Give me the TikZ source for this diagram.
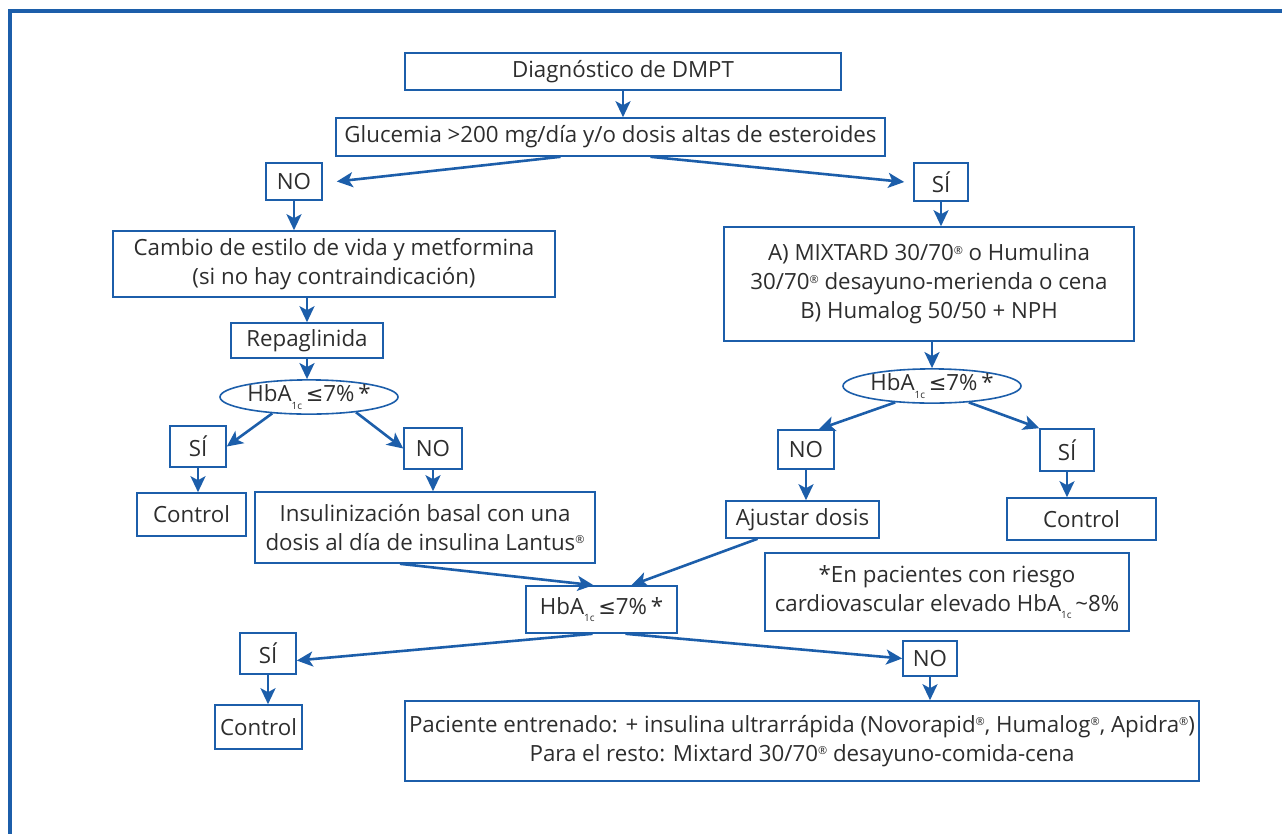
\documentclass[tikz,border=0pt]{standalone}
\usepackage{fontspec}
\setmainfont{Open Sans}
\newfontfamily\dv{DejaVu Sans}
\usetikzlibrary{shapes.geometric,arrows.meta}
\definecolor{bl}{RGB}{28,94,170}
\definecolor{tx}{RGB}{45,45,45}
\newcommand\rg{\raisebox{0.55ex}{\fontsize{11}{11}\selectfont ®}}
\newcommand\sbc[1]{\raisebox{-0.6ex}{\fontsize{10}{10}\selectfont #1}}
\newcommand\hba{HbA\sbc{1c}\,{\dv\fontsize{21}{21}\selectfont ≤}7\%\,*}
\begin{document}
\begin{tikzpicture}[x=1pt,y=-1pt,
  every node/.style={text=tx,font=\fontsize{22.3}{29}\selectfont},
  bx/.style={draw=bl,line width=1.6pt,inner sep=0pt,align=center},
  el/.style={draw=bl,line width=1.6pt,ellipse,inner sep=0pt},
  arr/.style={draw=bl,line width=2.6pt,-{Stealth[length=16pt,width=15pt,inset=4pt]}},
  frame/.style={draw=bl,line width=3.2pt}]
\useasboundingbox (0,0) rectangle (1282,833);
\draw[frame] (10,850) -- (10,11) -- (1300,11);
\node[bx,minimum width=436pt,minimum height=37pt] (diag) at (623,71.5) {Diagnóstico de DMPT};
\node[bx,minimum width=549pt,minimum height=38pt] (gluc) at (610.5,137) {Glucemia >200 mg/día y/o dosis altas de esteroides};
\node[bx,minimum width=56pt,minimum height=37pt] (no1) at (294,181.5) {NO};
\node[bx,minimum width=54pt,minimum height=38pt] (si1) at (941,182) {SÍ};
\node[bx,minimum width=442pt,minimum height=66pt] (cambio) at (334,264) {Cambio de estilo de vida y metformina\\(si no hay contraindicación)};
\node[bx,minimum width=410pt,minimum height=114pt] (mix) at (929,284) {A) MIXTARD 30/70\rg{} o Humulina\\30/70\rg{} desayuno-merienda o cena\\B) Humalog 50/50 + NPH};
\node[bx,minimum width=152pt,minimum height=35pt] (repa) at (307,340.5) {Repaglinida};
\node[el,minimum width=178pt,minimum height=30pt] (ell1) at (309,397) {\hba};
\node[el,minimum width=178pt,minimum height=28pt] (ell2) at (932,386) {\hba};
\node[bx,minimum width=56pt,minimum height=41pt] (si2) at (198,446.5) {SÍ};
\node[bx,minimum width=58pt,minimum height=41pt] (no2) at (433,448.5) {NO};
\node[bx,minimum width=56pt,minimum height=39pt] (no3) at (806,449.5) {NO};
\node[bx,minimum width=54pt,minimum height=42pt] (si3) at (1067,450) {SÍ};
\node[bx,minimum width=109pt,minimum height=43pt] (ctl1) at (191.5,514.5) {Control};
\node[bx,minimum width=340pt,minimum height=71pt] (insul) at (425,527.5) {Insulinización basal con una\\dosis al día de insulina Lantus\rg};
\node[bx,minimum width=153pt,minimum height=37pt] (ajus) at (802.5,519.5) {Ajustar dosis};
\node[bx,minimum width=149pt,minimum height=42pt] (ctl2) at (1081.5,519) {Control};
\node[bx,minimum width=364pt,minimum height=78pt] (note) at (947,592) {*En pacientes con riesgo\\cardiovascular elevado HbA\sbc{1c}\,\textasciitilde8\%};
\node[bx,minimum width=151pt,minimum height=47pt] (hbb) at (601.5,609.5) {\hba};
\node[bx,minimum width=56pt,minimum height=41pt] (si4) at (268,653.5) {SÍ};
\node[bx,minimum width=54pt,minimum height=35pt] (no4) at (930,658.5) {NO};
\node[bx,minimum width=87pt,minimum height=44pt] (ctl3) at (258.5,727) {Control};
\node[bx,minimum width=794pt,minimum height=80pt] (bot) at (802,741) {Paciente entrenado: + insulina ultrarrápida (Novorapid\rg, Humalog\rg, Apidra\rg)\\Para el resto: Mixtard 30/70\rg{} desayuno-comida-cena};
% arrows
\draw[arr] (diag.south) -- (diag.south |- gluc.north);
\draw[arr] ([xshift=-50pt]gluc.south) -- ([xshift=14pt]no1.east);
\draw[arr] ([xshift=40pt]gluc.south) -- ([xshift=-9pt]si1.west);
\draw[arr] (no1.south) -- (no1.south |- cambio.north);
\draw[arr] (si1.south) -- (si1.south |- mix.north);
\draw[arr] (repa.north |- cambio.south) -- (repa.north);
\draw[arr] (repa.south) -- (repa.south |- ell1.north);
\draw[arr] (ell2.north |- mix.south) -- (ell2.north);
\draw[arr] (ell1.204) -- (si2.east);
\draw[arr] (ell1.342) -- (no2.west);
\draw[arr] (ell2.204) -- ([xshift=-16pt]no3.north east);
\draw[arr] (ell2.336) -- (si3.north west);
\draw[arr] (si2.south) -- (si2.south |- ctl1.north);
\draw[arr] (no2.south) -- (no2.south |- insul.north);
\draw[arr] (no3.south) -- (no3.south |- ajus.north);
\draw[arr] (si3.south) -- (si3.south |- ctl2.north);
\draw[arr] ([xshift=-25pt]insul.south) -- ([xshift=-8pt]hbb.north);
\draw[arr] ([xshift=-45pt]ajus.south) -- ([xshift=30pt]hbb.north);
\draw[arr] ([xshift=-9pt]hbb.south) -- ([yshift=-7pt]si4.east);
\draw[arr] ([xshift=24pt]hbb.south) -- (no4.west);
\draw[arr] (si4.south) -- (si4.south |- ctl3.north);
\draw[arr] (no4.south) -- (no4.south |- bot.north);
\end{tikzpicture}
\end{document}
